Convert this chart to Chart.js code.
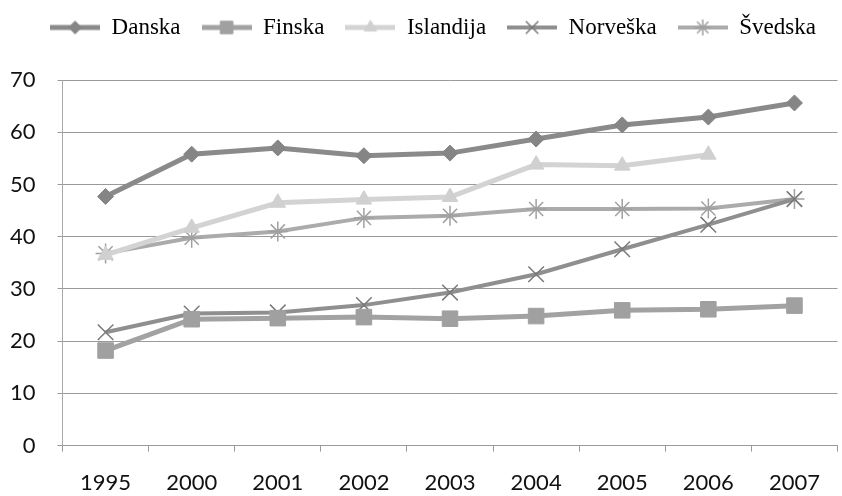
<!DOCTYPE html>
<html lang="hr">
<head>
<meta charset="UTF-8">
<title>Nordijske zemlje</title>
<script src="https://cdn.jsdelivr.net/npm/chart.js"></script>
<style>
    html, body {
        margin: 0;
        padding: 0;
        background: #fff;
        overflow: hidden;
    }

    /* slightly wider than the window: the plot runs off the right edge in the original */
    .chart-box {
        position: relative;
        width: 850px;
        height: 496px;
    }
</style>
</head>
<body>
<div class="chart-box"><canvas id="chart"></canvas></div>

<script>
// years on the x axis
const years = ['1995', '2000', '2001', '2002', '2003', '2004', '2005', '2006', '2007'];

// values
const danska    = [47.7, 55.8, 57.0, 55.5, 56.0, 58.7, 61.4, 62.9, 65.6];
const finska    = [18.2, 24.2, 24.4, 24.6, 24.3, 24.8, 25.9, 26.1, 26.8];
const islandija = [36.5, 41.7, 46.5, 47.1, 47.6, 53.8, 53.6, 55.7, null];
const norveska  = [21.7, 25.3, 25.5, 26.9, 29.3, 32.8, 37.6, 42.3, 47.2];
const svedska   = [36.8, 39.8, 41.0, 43.6, 44.0, 45.3, 45.3, 45.4, 47.2];

const yTicks = [0, 10, 20, 30, 40, 50, 60, 70];

// look of each series
const series = [
    { label: 'Danska',    data: danska,    color: '#8a8a8a', width: 5, style: 'rectRot',  radius: 8,  markerColor: '#858585', markerWidth: 1 },
    { label: 'Finska',    data: finska,    color: '#a2a2a2', width: 5, style: 'rect',     radius: 11, markerColor: '#a0a0a0', markerWidth: 1 },
    { label: 'Islandija', data: islandija, color: '#d3d3d3', width: 5, style: 'triangle', radius: 9,  markerColor: '#d0d0d0', markerWidth: 1 },
    { label: 'Norveška',  data: norveska,  color: '#8f8f8f', width: 4, style: 'crossRot', radius: 11, markerColor: '#7a7a7a', markerWidth: 1.5 },
    { label: 'Švedska',   data: svedska,   color: '#ababab', width: 4, style: 'star',     radius: 10, markerColor: '#a0a0a0', markerWidth: 1.5 }
];

// legend icon: short thick line with the marker in the middle
function legendIcon(s) {
    const c = document.createElement('canvas');
    c.width = 50;
    c.height = 24;
    const ctx = c.getContext('2d');
    ctx.strokeStyle = s.color;
    ctx.lineWidth = s.width;
    ctx.beginPath();
    ctx.moveTo(0, 12);
    ctx.lineTo(50, 12);
    ctx.stroke();
    ctx.fillStyle = s.markerColor;
    ctx.strokeStyle = s.markerColor;
    ctx.lineWidth = s.markerWidth;
    Chart.helpers.drawPoint(ctx, { pointStyle: s.style, radius: s.radius * 0.8, rotation: 0, borderWidth: s.markerWidth }, 25, 12);
    return c;
}

const datasets = series.map(s => ({
    label: s.label,
    data: s.data,
    borderColor: s.color,
    backgroundColor: s.markerColor,
    borderWidth: s.width,
    pointStyle: s.style,
    pointRadius: s.radius,
    pointBorderColor: s.markerColor,
    pointBackgroundColor: s.markerColor,
    pointBorderWidth: s.markerWidth,
    tension: 0,
    spanGaps: false
}));

// more room between the legend and the plot, and nudge the legend right a bit
const legendGap = {
    id: 'legendGap',
    beforeInit(chart) {
        const fit = chart.legend.fit;
        chart.legend.fit = function () {
            fit.call(this);
            this.height += 31;
        };
    },
    afterLayout(chart) {
        chart.legend.left += 14;
        chart.legend.right += 14;
    }
};

const ctx = document.getElementById('chart').getContext('2d');
new Chart(ctx, {
    type: 'line',
    data: { labels: years, datasets: datasets },
    plugins: [legendGap],
    options: {
        responsive: true,
        maintainAspectRatio: false,
        animation: false,
        layout: {
            padding: { left: -12, right: 0, top: -5, bottom: -18 }
        },
        plugins: {
            tooltip: { enabled: false },
            legend: {
                position: 'top',
                labels: {
                    usePointStyle: true,
                    pointStyleWidth: 50,
                    padding: 21,
                    color: '#111',
                    font: { family: '"Liberation Serif", "DejaVu Serif", serif', size: 23 },
                    generateLabels: chart => series.map((s, i) => ({
                        text: s.label,
                        pointStyle: legendIcon(s),
                        fillStyle: s.color,
                        strokeStyle: s.color,
                        lineWidth: 0,
                        hidden: false,
                        datasetIndex: i
                    }))
                }
            }
        },
        scales: {
            x: {
                offset: true,
                grid: {
                    offset: true,
                    drawOnChartArea: false,
                    drawTicks: true,
                    tickLength: 6,
                    color: '#9a9a9a'
                },
                border: { color: '#9a9a9a', width: 1 },
                ticks: {
                    color: '#111',
                    padding: 18,
                    maxRotation: 0,
                    font: { family: 'Lato, "Open Sans", sans-serif', size: 22 }
                }
            },
            y: {
                min: 0,
                max: 70,
                afterBuildTicks: axis => { axis.ticks = yTicks.map(v => ({ value: v })); },
                grid: {
                    color: '#9a9a9a',
                    tickLength: 5,
                    drawTicks: true
                },
                border: { color: '#a8a8a8', width: 1 },
                ticks: {
                    color: '#111',
                    padding: 22,
                    font: { family: 'Lato, "Open Sans", sans-serif', size: 22 }
                }
            }
        }
    }
});
</script>
</body>
</html>
